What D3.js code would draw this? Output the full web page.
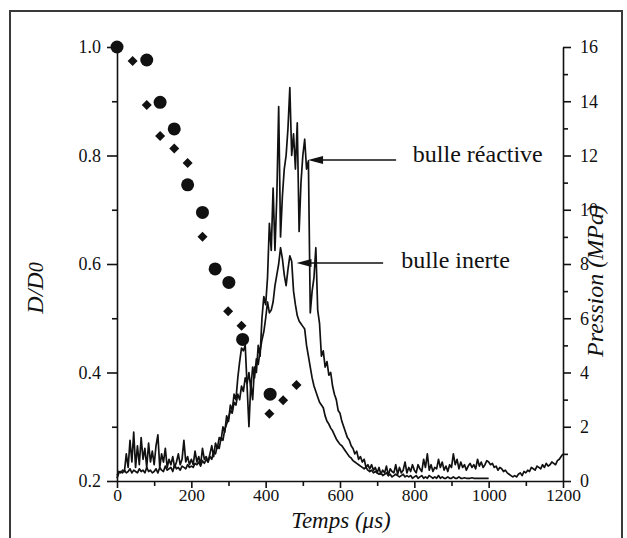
<!DOCTYPE html>
<html><head><meta charset="utf-8">
<script src="https://cdn.jsdelivr.net/npm/d3@7"></script>
<style>body{margin:0;background:#fff}</style></head><body><svg id="c" width="627" height="538"></svg>
<script>
// ---- data ----
const xTicks=[0,200,400,600,800,1000,1200];
const xMinor=[100,300,500,700,900,1100];
const yLeftTicks=[0.2,0.4,0.6,0.8,1.0];
const yLeftMinor=[0.3,0.5,0.7,0.9];
const yRightTicks=[0,2,4,6,8,10,12,14,16];
const yRightMinor=[1,3,5,7,9,11,13,15];

const circleT=[0,80,116,154,190,230,264,301,338,412];
const circleD=[1.0,0.976,0.898,0.849,0.746,0.695,0.591,0.566,0.461,0.360];
const diamondT=[42,80,116,154,190,230,299,335,410,447,483];
const diamondD=[0.974,0.893,0.836,0.813,0.786,0.650,0.513,0.486,0.324,0.349,0.377];

const stepUs=5; // sampling step of the pressure records
const pReactive=[
0.2,0.35,0.3,0.4,0.35,1.0,0.5,1.5,0.7,1.8,0.5,1.3,0.6,1.6,0.8,1.2,0.5,1.4,0.7,1.1,
0.6,1.3,1.7,0.5,1.0,0.7,1.2,0.5,0.8,0.6,0.9,0.5,0.7,1.0,0.6,0.8,1.5,0.7,0.9,0.6,
0.8,0.6,1.1,0.7,0.9,0.6,1.2,0.8,0.9,0.7,1.0,1.3,0.9,1.4,1.2,1.6,1.5,2.0,1.8,2.4,
2.2,2.8,2.6,3.2,3.0,3.8,4.4,4.9,4.8,5.0,3.5,2.0,3.6,3.0,4.2,4.0,5.0,4.6,6.0,6.8,
6.5,7.5,9.5,8.5,10.8,8.5,10.5,13.8,9.0,10.5,11.5,12.0,13.0,14.5,12.0,12.8,11.5,13.2,9.2,11.0,
12.0,12.6,11.5,11.8,6.2,7.0,7.5,8.6,6.3,5.8,4.6,4.8,4.2,4.4,3.9,4.0,3.5,3.2,3.0,2.6,
2.5,2.2,2.0,1.8,1.6,1.5,1.3,1.2,1.0,1.1,0.8,0.9,0.7,0.8,0.5,0.6,0.45,0.6,0.4,0.5,
0.3,0.5,0.25,0.4,0.3,0.55,0.2,0.45,0.35,0.3,0.6,0.25,0.5,0.3,0.4,0.7,0.3,0.5,0.35,0.6,
0.4,0.3,0.6,0.45,0.35,0.8,0.5,1.0,0.4,0.6,0.35,0.5,0.45,0.8,0.5,0.7,0.4,0.55,0.35,0.6,
0.5,1.0,0.6,0.8,0.45,0.7,0.5,0.6,0.4,0.55,0.65,0.5,0.6,0.45,0.8,0.55,0.7,0.5,0.6,0.75,
0.7,0.6,0.65,0.5,0.55,0.4,0.5,0.45,0.35,0.4,0.3,0.25,0.2,0.15,0.2,0.15,0.25,0.3,0.2,0.35,
0.3,0.4,0.35,0.5,0.45,0.4,0.55,0.5,0.45,0.6,0.5,0.65,0.55,0.6,0.7,0.65,0.6,0.75,0.8,0.9,
1.0];
const pInert=[
0.1,0.3,0.35,0.3,0.4,0.3,0.35,0.45,0.3,0.4,0.35,0.3,0.45,0.35,0.4,0.3,0.5,0.35,0.4,0.3,
0.35,0.45,0.3,0.5,0.4,0.35,0.55,0.4,0.45,0.5,0.35,0.6,0.45,0.5,0.4,0.55,0.5,0.45,0.6,0.5,
0.55,0.5,0.65,0.6,0.7,0.55,0.75,0.65,0.8,0.7,0.9,0.8,1.1,1.0,1.3,1.2,1.6,1.5,1.9,2.1,
2.3,2.6,2.5,2.9,2.8,3.2,3.0,3.5,3.3,3.8,3.6,4.0,3.4,4.2,3.8,4.5,4.3,4.8,5.2,5.5,
6.0,6.6,6.2,6.3,6.6,7.2,7.6,8.0,8.6,8.2,7.6,7.2,7.8,8.3,8.1,7.0,6.5,6.1,5.9,5.8,
5.7,5.6,5.0,4.6,4.2,3.8,3.5,3.3,3.1,2.9,2.8,2.7,2.4,2.2,2.1,1.95,1.85,1.7,1.55,1.45,
1.35,1.3,1.2,1.1,1.0,0.9,0.85,0.75,0.7,0.65,0.6,0.55,0.5,0.45,0.5,0.4,0.35,0.4,0.3,0.35,
0.3,0.25,0.3,0.2,0.25,0.3,0.2,0.25,0.15,0.2,0.25,0.2,0.15,0.2,0.25,0.15,0.2,0.15,0.2,0.1,
0.15,0.2,0.1,0.15,0.2,0.1,0.15,0.1,0.2,0.15,0.1,0.15,0.1,0.2,0.1,0.15,0.1,0.1,0.15,0.1,
0.1,0.15,0.1,0.1,0.15,0.1,0.1,0.12,0.1,0.1,0.1,0.12,0.1,0.1,0.1,0.1,0.1,0.1,0.1,0.1,
0.1];

const annLabels=["bulle réactive","bulle inerte"];
const annTipT=[514,483];
const annTipP=[11.83,8.04];
const annTailT=[751,716];
const annTextT=[796,765];
const annTextP=[11.75,7.85];

// ---- drawing ----
const FONT="Liberation Serif";
const svg=d3.select("#c");
svg.append("rect").attr("x",10).attr("y",11).attr("width",612).attr("height",545)
  .attr("fill","none").attr("stroke","#3a3a3a").attr("stroke-width",2);

const x=d3.scaleLinear([0,1200],[117,563]);
const yL=d3.scaleLinear([0.2,1.0],[481,47]);
const yR=d3.scaleLinear([0,16],[481,47]);

function styleAxis(g,size){
  g.attr("font-family",FONT).attr("font-size",size||18);
  g.selectAll("path.domain").attr("stroke","#111").attr("stroke-width",1.6);
  g.selectAll(".tick line").attr("stroke","#111").attr("stroke-width",1.6);
  g.selectAll(".tick text").attr("fill","#111").attr("font-family",FONT);
}
// bottom
svg.append("g").attr("transform","translate(0,481)")
  .call(d3.axisBottom(x).tickValues(xTicks).tickSize(7).tickSizeOuter(0).tickPadding(1).tickFormat(d3.format("d"))).call(styleAxis,17.5);
svg.append("g").attr("transform","translate(0,481)")
  .call(d3.axisBottom(x).tickValues(xMinor).tickSize(5).tickSizeOuter(0).tickFormat("")).call(styleAxis)
  .select(".domain").remove();
// left
svg.append("g").attr("transform","translate(117,0)")
  .call(d3.axisLeft(yL).tickValues(yLeftTicks).tickSize(10).tickSizeOuter(0).tickPadding(6).tickFormat(d3.format(".1f"))).call(styleAxis);
svg.append("g").attr("transform","translate(117,0)")
  .call(d3.axisLeft(yL).tickValues(yLeftMinor).tickSize(5).tickSizeOuter(0).tickFormat("")).call(styleAxis)
  .select(".domain").remove();
// right
svg.append("g").attr("transform","translate(563,0)")
  .call(d3.axisRight(yR).tickValues(yRightTicks).tickSize(8).tickSizeOuter(0).tickPadding(9)).call(styleAxis);
svg.append("g").attr("transform","translate(563,0)")
  .call(d3.axisRight(yR).tickValues(yRightMinor).tickSize(5).tickSizeOuter(0).tickFormat("")).call(styleAxis)
  .select(".domain").remove();

// pressure traces
const line=d3.line().x(d=>x(d[0])).y(d=>yR(d[1]));
const recR=pReactive.map((p,i)=>[i*stepUs,p]);
const recI=pInert.map((p,i)=>[i*stepUs,p]);
[recI,recR].forEach(rec=>{
  svg.append("path").datum(rec).attr("d",line).attr("fill","none")
    .attr("stroke","#111").attr("stroke-width",1.7).attr("stroke-linejoin","round");
});

// D/D0 markers
svg.append("g").selectAll("circle").data(circleT).join("circle")
  .attr("cx",d=>x(d)).attr("cy",(d,i)=>yL(circleD[i])).attr("r",6.5).attr("fill","#111");
const diamond=d3.symbol(d3.symbolSquare,50);
svg.append("g").selectAll("path").data(diamondT).join("path")
  .attr("d",diamond).attr("fill","#111")
  .attr("transform",(d,i)=>`translate(${x(d)},${yL(diamondD[i])}) rotate(45)`);

// annotations
annLabels.forEach((lab,i)=>{
  const tx=x(annTipT[i]), ty=yR(annTipP[i]), ex=x(annTailT[i]);
  svg.append("line").attr("x1",tx+10).attr("x2",ex).attr("y1",ty).attr("y2",ty)
    .attr("stroke","#111").attr("stroke-width",1.5);
  svg.append("path").attr("d",`M${tx},${ty}L${tx+15},${ty-4}L${tx+15},${ty+4}Z`).attr("fill","#111");
  svg.append("text").attr("x",x(annTextT[i])).attr("y",yR(annTextP[i]))
    .attr("font-family",FONT).attr("font-size",24).attr("fill","#111").text(lab);
});

// titles
svg.append("text").attr("transform","translate(43,288) rotate(-90)").attr("text-anchor","middle")
  .attr("font-family",FONT).attr("font-size",24).attr("font-style","italic").attr("fill","#111")
  .call(t=>{t.append("tspan").text("D/D");t.append("tspan").attr("font-size",20).text("0");});
svg.append("text").attr("transform","translate(603,281) rotate(-90)").attr("text-anchor","middle")
  .attr("font-family",FONT).attr("font-size",24).attr("font-style","italic").attr("fill","#111").text("Pression (MPa)");
svg.append("text").attr("x",341).attr("y",528).attr("text-anchor","middle")
  .attr("font-family",FONT).attr("font-size",23).attr("font-style","italic").attr("fill","#111").text("Temps (μs)");
</script></body></html>
